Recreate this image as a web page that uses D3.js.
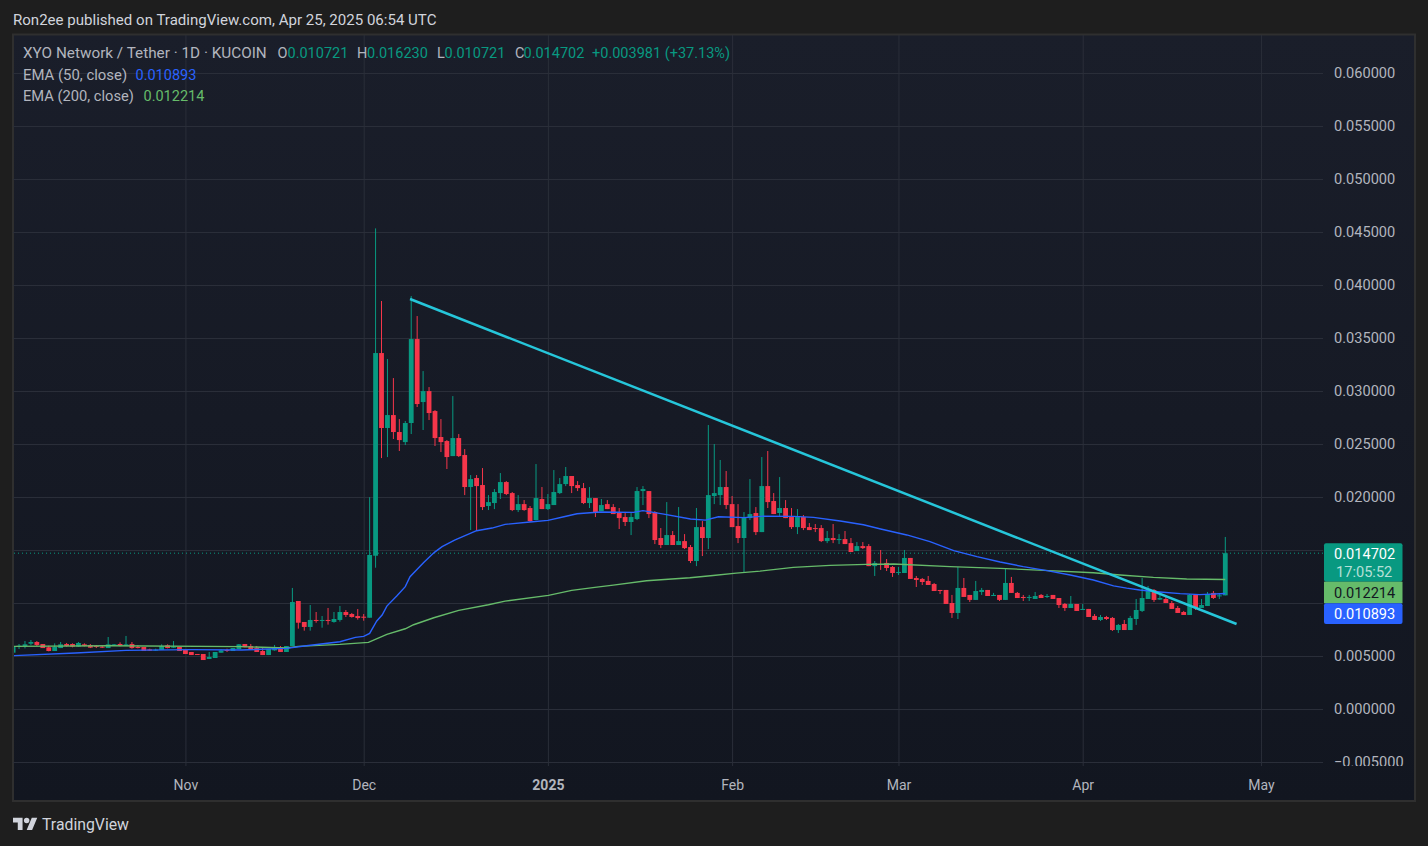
<!DOCTYPE html>
<html>
<head>
<meta charset="utf-8">
<script src="https://d3js.org/d3.v7.min.js"></script>
<style>
  html, body { margin: 0; padding: 0; background: #1e1e1e; }
  svg { display: block; }
  text { font-family: Roboto, sans-serif; }
</style>
</head>
<body>
<svg id="chart"></svg>
<script>
// daily candles, Oct 3 2024 (day 0) to Apr 25 2025 (day 204), prices in 0.00001 USDT
var opens = [531,591,594,616,632,613,582,547,575,613,613,588,610,604,594,588,575,601,613,597,613,585,585,563,557,557,601,578,585,560,538,519,519,472,481,531,557,547,566,613,594,575,547,509,553,582,538,594,1019,821,774,840,833,840,821,840,915,896,877,871,861,1446,
  3358,2651,2773,2613,2518,2698,3490,2896,2999,2811,2566,2528,2386,2556,2396,2094,2179,2113,1915,1943,2037,2141,2037,1877,1933,1896,1783,1981,
  1886,1924,2037,2122,2198,2113,2084,1943,1990,1867,1933,1905,1849,1811,1764,1792,2056,2056,1858,1613,1547,1641,1547,1584,1528,1396,1716,1613,2009,2018,2094,
  1933,1726,1613,1801,1849,1669,2103,1962,1849,1896,1811,1716,1811,1716,1707,1707,1584,1613,1600,1603,1565,1490,1537,1537,1348,1368,1378,1340,
  1290,1283,1425,1236,1227,1208,1179,1123,1123,1000,906,1142,1076,1029,1104,1123,1066,1076,1029,1189,1095,1057,1052,1038,1076,1057,1076,1047,991,953,991,
  934,944,878,840,868,859,745,802,745,849,925,1038,1123,1032,1038,1000,953,915,887,1076,953,972,1095,1066,1072];
var highs = [698,613,641,651,641,613,597,619,632,623,619,632,619,613,604,597,679,613,629,689,632,601,585,569,569,610,610,641,585,560,538,519,519,538,538,563,569,575,613,613,613,594,575,566,604,594,594,1142,1019,821,981,915,877,953,915,972,934,906,943,896,1998,4534,
  3849,3302,3122,2735,2717,3896,3707,3188,3037,2820,2735,2537,2952,2594,2452,2207,2207,2273,2018,2075,2226,2150,2047,2018,1971,1915,2311,2094,
  2028,2254,2179,2283,2198,2150,2132,2094,1990,1981,1971,1933,1896,1849,1849,2094,2103,2056,1867,1707,1952,1679,1905,1650,1547,1896,1773,2679,2500,2349,2245,
  2009,1933,1858,2169,1905,2377,2434,2037,2188,1971,1896,1886,1830,1754,1745,1735,1679,1745,1650,1679,1613,1575,1575,1556,1396,1500,1415,1349,
  1340,1500,1425,1255,1236,1255,1189,1123,1123,1076,1340,1236,1076,1208,1142,1123,1095,1076,1321,1246,1104,1076,1076,1104,1085,1085,1076,1047,1000,1066,991,
  991,944,896,887,878,868,802,840,878,1038,1236,1161,1132,1104,1066,1019,972,925,1085,1076,1038,1104,1113,1085,1623];
var lows = [531,566,572,601,594,575,544,547,575,588,582,585,591,575,575,575,575,594,591,594,569,572,547,547,547,557,572,575,547,519,509,513,462,472,481,531,538,547,563,582,557,538,509,509,550,538,538,594,758,739,739,814,767,796,814,824,868,862,843,833,861,1333,
  2367,2377,2547,2434,2490,2594,2849,2632,2726,2481,2424,2264,2386,2377,2018,1688,1688,1877,1877,1886,1981,2018,1867,1858,1870,1764,1780,1886,
  1877,1924,2028,2103,2037,2056,1933,1896,1811,1867,1886,1839,1698,1726,1641,1782,1924,1801,1556,1518,1547,1547,1547,1509,1377,1348,1443,1509,1933,1924,1886,
  1716,1565,1292,1782,1641,1669,1896,1839,1811,1801,1698,1650,1688,1688,1669,1575,1565,1565,1556,1556,1481,1490,1509,1348,1255,1312,1302,1246,
  1264,1283,1227,1151,1170,1170,1113,1085,991,859,849,1057,1010,1029,1076,1066,1066,1019,1029,1095,1047,1019,1019,1038,1047,1047,1038,953,925,953,925,
  934,868,840,830,840,736,717,745,745,793,915,1038,1010,1029,1000,944,906,887,887,934,953,972,1038,1038,1072];
var closes = [588,597,610,632,604,575,547,585,610,594,588,623,594,579,585,585,610,610,597,610,575,579,547,550,560,594,575,588,547,519,509,513,462,491,538,553,550,575,610,582,566,538,509,566,585,538,594,1009,814,774,840,830,840,833,849,915,887,868,858,861,1453,3358,
  2651,2773,2613,2537,2698,3490,2877,2999,2792,2556,2518,2377,2556,2386,2094,2169,2103,1905,1952,2047,2141,2028,1877,1933,1877,1773,1990,1886,
  1933,2047,2122,2198,2103,2084,1943,1990,1858,1924,1886,1839,1801,1764,1811,2056,2075,1839,1594,1547,1641,1547,1584,1518,1396,1716,1613,2018,2037,2094,1924,
  1716,1613,1811,1839,1669,2103,1952,1839,1896,1801,1716,1811,1707,1688,1698,1584,1613,1594,1603,1556,1481,1537,1518,1348,1378,1362,1330,1283,
  1293,1425,1227,1217,1198,1170,1113,1113,991,906,1142,1057,1029,1113,1123,1066,1076,1029,1189,1095,1047,1047,1057,1066,1047,1066,1038,981,953,991,925,
  944,868,840,868,849,745,793,745,859,934,1047,1132,1029,1047,1000,944,906,887,1076,953,981,1085,1047,1072,1470];

// EMA lines read at their bends: [day, price] as parallel arrays
var ema50Days = [0,10.5,19,30,38.5,46,49,55,57.6,59,60,61.2,62.1,62.9,64.6,66,66.8,69.1,70.9,72.2,74.3,78,80.6,82.8,87,90,92.7,94.9,98.8,104.4,106,109.5,114,116.5,118.7,123,126.3,131.4,134.7,139.2,143.1,146,150.4,154.3,158.3,162.2,166.1,170,174,177.9,181.8,185.2,187.4,189.6,193,196.4,199.7,204];
var ema50Values = [503,528,553,560,557,572,594,635,676,685,713,830,886,971,1069,1154,1248,1383,1478,1531,1594,1682,1707,1742,1764,1779,1814,1842,1858,1855,1871,1839,1792,1782,1814,1805,1820,1817,1808,1773,1738,1698,1642,1579,1494,1437,1387,1343,1305,1264,1217,1161,1140,1123,1104,1088,1079,1089];
var ema200Days = [0,16,38.5,46,48,55,59.8,62.9,66,67.4,70.8,75,80,82.8,90.1,94,97.9,101,106.6,113.9,117.8,121.7,125.7,131.3,137.5,143.6,148.2,157.7,166.1,173.4,181.8,186.3,191.9,197.5,204];
var ema200Values = [591,597,588,575,591,610,629,704,757,795,861,930,984,1018,1072,1119,1147,1169,1210,1238,1260,1282,1301,1336,1355,1364,1368,1343,1327,1308,1286,1264,1242,1227,1221];
var trendDays = [66.8, 205.9];
var trendValues = [3868, 802];

var priceTicks = [6000,5500,5000,4500,4000,3500,3000,2500,2000,1500,1000,500,0,-500];
var hiddenPriceLabels = [1500, 1000]; // sit behind the price tags
var monthDays = [29, 59, 90, 121, 149, 180, 210];
var monthLabels = ["Nov", "Dec", "2025", "Feb", "Mar", "Apr", "May"];

var legendName = "XYO Network / Tether · 1D · KUCOIN";
var ohlcLetters = ["O", "H", "L", "C"];
var ohlcTexts = ["0.010721", "0.016230", "0.010721", "0.014702"];

var W = 1428, H = 846;
var teal = "#089981", red = "#f5364a", blue = "#2962ff", green = "#66bb6a", gridCol = "#2a2e39", axisText = "#b2b5be";

var svg = d3.select("#chart").attr("width", W).attr("height", H);

var x = d3.scaleLinear().domain([0, 204]).range([13.1, 1225.3]);
var y = d3.scaleLinear().domain([0, 6000]).range([709, 73]);

var defs = svg.append("defs");
var grad = defs.append("linearGradient").attr("id", "panelBg").attr("x1", 0).attr("y1", 0).attr("x2", 0).attr("y2", 1);
grad.append("stop").attr("offset", "0%").attr("stop-color", "#1a1e2a");
grad.append("stop").attr("offset", "100%").attr("stop-color", "#121620");
defs.append("clipPath").attr("id", "plotClip").append("rect").attr("x", 14).attr("y", 35).attr("width", 1400).attr("height", 731);

// page + panel
svg.append("rect").attr("width", W).attr("height", H).attr("fill", "#1e1e1e");
svg.append("rect").attr("x", 13).attr("y", 34.5).attr("width", 1402).attr("height", 766.5)
  .attr("fill", "url(#panelBg)").attr("stroke", "#2f2f2f").attr("stroke-width", 2);

svg.append("text").attr("x", 13).attr("y", 25).attr("fill", "#d1d4dc").attr("font-size", 15.05)
  .text("Ron2ee published on TradingView.com, Apr 25, 2025 06:54 UTC");

// grid comes from the axes
var xAxis = d3.axisBottom(x).tickValues(monthDays).tickSize(731).tickPadding(0)
  .tickFormat(function(d, i) { return monthLabels[i]; });
var gx = svg.append("g").attr("transform", "translate(0,35)").call(xAxis);
gx.select(".domain").remove();
gx.selectAll("line").attr("stroke", gridCol);
gx.selectAll("text").attr("y", 755).attr("dy", 0).attr("fill", axisText).attr("font-size", 14)
  .attr("font-weight", function(d) { return d == 90 ? 700 : 400; });

var yAxis = d3.axisRight(y).tickValues(priceTicks).tickSize(1310).tickPadding(0)
  .tickFormat(function(d) { return hiddenPriceLabels.indexOf(d) >= 0 ? "" : d3.format(".6f")(d / 1e5); });
var gy = svg.append("g").attr("transform", "translate(13,0)").call(yAxis);
gy.select(".domain").remove();
gy.selectAll("line").attr("stroke", gridCol);
gy.selectAll("text").attr("x", 1321).attr("dy", "0.3em").attr("text-anchor", "start")
  .attr("fill", axisText).attr("font-size", 14.6);
gy.attr("clip-path", "url(#axisClip)");
defs.append("clipPath").attr("id", "axisClip").append("rect").attr("x", 0).attr("y", 35).attr("width", 1402).attr("height", 731);

var plot = svg.append("g").attr("clip-path", "url(#plotClip)");

var days = d3.range(opens.length);

// last price dotted line
plot.append("line").attr("x1", 14).attr("x2", 1323)
  .attr("y1", y(closes[204])).attr("y2", y(closes[204]))
  .attr("stroke", teal).attr("stroke-dasharray", "1 3");

// wicks
plot.selectAll("line.wick").data(days).enter().append("line").attr("class", "wick")
  .attr("x1", function(i) { return x(i); })
  .attr("x2", function(i) { return x(i); })
  .attr("y1", function(i) { return y(highs[i]); })
  .attr("y2", function(i) { return y(lows[i]); })
  .attr("stroke", function(i) { return closes[i] >= opens[i] ? teal : red; })
  .attr("stroke-width", 1);

// bodies
plot.selectAll("rect.body").data(days).enter().append("rect").attr("class", "body")
  .attr("x", function(i) { return x(i) - 2.4; })
  .attr("width", 4.8)
  .attr("y", function(i) { return y(Math.max(opens[i], closes[i])); })
  .attr("height", function(i) { return Math.max(1, Math.abs(y(opens[i]) - y(closes[i]))); })
  .attr("fill", function(i) { return closes[i] >= opens[i] ? teal : red; });

var line = d3.line()
  .x(function(d) { return x(d[0]); })
  .y(function(d) { return y(d[1]); });

plot.append("path").datum(d3.zip(ema200Days, ema200Values)).attr("d", line)
  .attr("fill", "none").attr("stroke", green).attr("stroke-width", 1.4);
plot.append("path").datum(d3.zip(ema50Days, ema50Values)).attr("d", line)
  .attr("fill", "none").attr("stroke", blue).attr("stroke-width", 1.4);
plot.append("path").datum(d3.zip(trendDays, trendValues)).attr("d", line)
  .attr("fill", "none").attr("stroke", "#26c6da").attr("stroke-width", 2.5);

// legend
var lg = svg.append("g").attr("font-size", 14.5);
lg.append("text").attr("x", 23).attr("y", 58).attr("font-size", 15.3).attr("fill", axisText).text(legendName);
var letterX = [277.5, 357, 437, 515], valueX = [287.5, 367, 444.5, 523.5];
ohlcLetters.forEach(function(l, i) {
  lg.append("text").attr("x", letterX[i]).attr("y", 58).attr("fill", axisText).text(l);
  lg.append("text").attr("x", valueX[i]).attr("y", 58).attr("fill", teal).text(ohlcTexts[i]);
});
lg.append("text").attr("x", 592).attr("y", 58).attr("fill", teal).text("+0.003981 (+37.13%)");
lg.append("text").attr("x", 23).attr("y", 80).attr("font-size", 14.9).attr("fill", axisText).text("EMA (50, close)");
lg.append("text").attr("x", 135.5).attr("y", 80).attr("fill", blue).text("0.010893");
lg.append("text").attr("x", 23).attr("y", 101).attr("font-size", 14.7).attr("fill", axisText).text("EMA (200, close)");
lg.append("text").attr("x", 143.5).attr("y", 101).attr("fill", green).text("0.012214");

// price tags on the right
var tags = svg.append("g").attr("font-size", 14.6);
tags.append("rect").attr("x", 1324).attr("y", 543.3).attr("width", 78.5).attr("height", 38.4).attr("rx", 2).attr("fill", teal);
tags.append("rect").attr("x", 1324).attr("y", 581.7).attr("width", 78.5).attr("height", 21.6).attr("fill", green);
tags.append("rect").attr("x", 1324).attr("y", 603.3).attr("width", 78.5).attr("height", 20.7).attr("rx", 2).attr("fill", blue);
tags.append("text").attr("x", 1334).attr("y", 559).attr("fill", "#ffffff").text("0.014702");
tags.append("text").attr("x", 1336).attr("y", 577).attr("fill", "#b5e0d8").text("17:05:52");
tags.append("text").attr("x", 1334).attr("y", 598).attr("fill", "#131722").text("0.012214");
tags.append("text").attr("x", 1334).attr("y", 619).attr("fill", "#ffffff").text("0.010893");

// footer logo
var logo = svg.append("g").attr("transform", "translate(13,815) scale(0.683)").attr("fill", "#d1d4dc");
logo.append("path").attr("d", "M14 22H7V11H0V4h14v18zM28 22h-8l7.5-18h8L28 22z");
logo.append("circle").attr("cx", 20).attr("cy", 8).attr("r", 4);
svg.append("text").attr("x", 42).attr("y", 830).attr("fill", "#d1d4dc").attr("font-size", 15.8).text("TradingView");
</script>
</body>
</html>
